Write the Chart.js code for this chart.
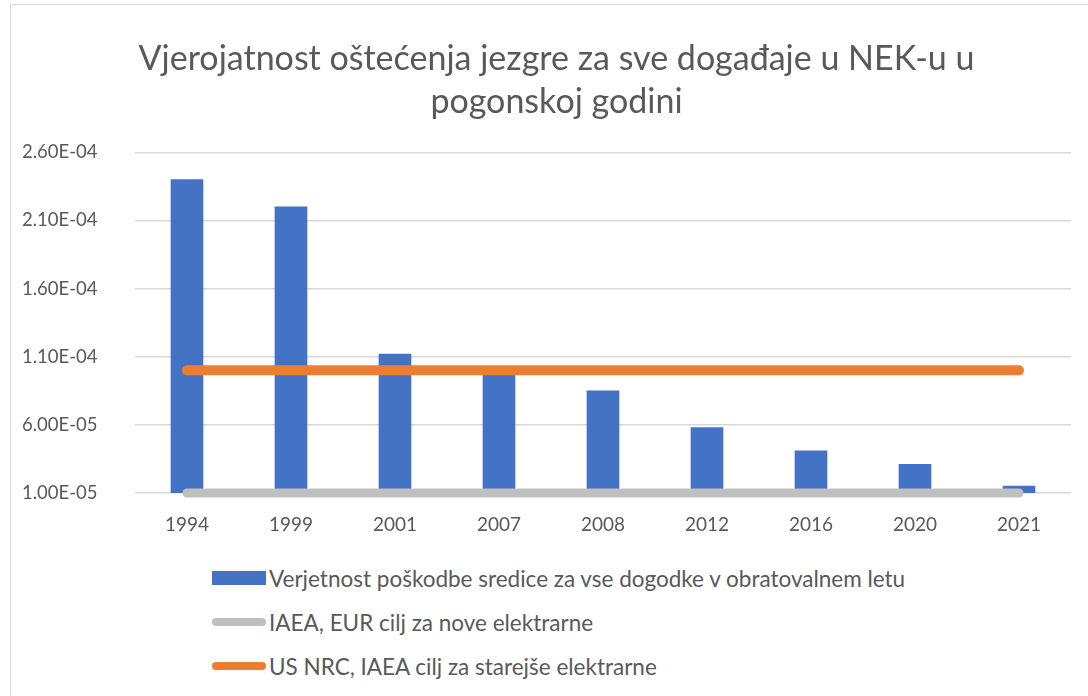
<!DOCTYPE html>
<html>
<head>
<meta charset="utf-8">
<script src="https://cdn.jsdelivr.net/npm/chart.js@4"></script>
<style>
  body { margin: 0; background: #fff; font-family: Lato, sans-serif; }
  #frame { position: absolute; left: 10px; top: 4px; width: 1100px; height: 720px; border: 1px solid #d9d9d9; }
  #wrap { position: absolute; left: 0; top: 0; width: 1088px; height: 545px; }
  #legend { position: absolute; left: 212px; top: 556px; color: #595959; font-size: 22.5px; }
  .item { display: flex; align-items: center; height: 44px; }
  .box { width: 54px; height: 14px; margin-right: 3px; }
  .ln { width: 54px; height: 8px; border-radius: 4px; margin-right: 3px; }
</style>
</head>
<body>
<div id="frame"></div>
<div id="wrap"><canvas id="chart"></canvas></div>
<div id="legend"></div>
<script>
// categories and values
const years = ["1994", "1999", "2001", "2007", "2008", "2012", "2016", "2020", "2021"];
const coreDamage = [2.40e-4, 2.20e-4, 1.12e-4, 9.8e-5, 8.5e-5, 5.8e-5, 4.1e-5, 3.1e-5, 1.5e-5];
const targetNew = [1e-5, 1e-5, 1e-5, 1e-5, 1e-5, 1e-5, 1e-5, 1e-5, 1e-5];
const targetOld = [1e-4, 1e-4, 1e-4, 1e-4, 1e-4, 1e-4, 1e-4, 1e-4, 1e-4];
const yTicks = [1e-5, 6e-5, 1.1e-4, 1.6e-4, 2.1e-4, 2.6e-4];

const textColor = "#595959";

function fmtExp(v) {
    const parts = v.toExponential(2).toUpperCase().split("E");
    const sign = parts[1][0] === "-" ? "-" : "+";
    let exp = parts[1].replace(/[+-]/, "");
    if (exp.length < 2) exp = "0" + exp;
    return parts[0] + "E" + sign + exp;
}

const chart = new Chart(document.getElementById("chart"), {
    data: {
        labels: years,
        datasets: [
            {
                type: "bar",
                label: "Verjetnost poškodbe sredice za vse dogodke v obratovalnem letu",
                data: coreDamage,
                backgroundColor: "#4472C4",
                barThickness: 32,
                order: 2
            },
            {
                type: "line",
                label: "IAEA, EUR cilj za nove elektrarne",
                data: targetNew,
                borderColor: "#BFBFBF",
                borderWidth: 9,
                borderCapStyle: "round",
                pointRadius: 0,
                clip: false,
                order: 1
            },
            {
                type: "line",
                label: "US NRC, IAEA cilj za starejše elektrarne",
                data: targetOld,
                borderColor: "#ED7D31",
                borderWidth: 10,
                borderCapStyle: "round",
                pointRadius: 0,
                clip: false,
                order: 0
            }
        ]
    },
    options: {
        responsive: true,
        maintainAspectRatio: false,
        animation: false,
        // left padding pushes the centred title right, as in the original
        layout: { padding: { left: 42, right: 17, top: 0, bottom: 0 } },
        plugins: {
            legend: { display: false },
            tooltip: { enabled: false },
            title: {
                display: true,
                text: ["Vjerojatnost oštećenja jezgre za sve događaje u NEK-u u", "pogonskoj godini"],
                color: textColor,
                font: { family: "Lato", size: 34, weight: "normal", lineHeight: 1.27 },
                padding: { top: 37, bottom: 29 }
            }
        },
        scales: {
            x: {
                grid: { display: false, drawTicks: false },
                border: { display: false },
                ticks: { color: textColor, font: { family: "Lato", size: 19 }, padding: 20 },
                afterFit: s => { s.height = 52; }
            },
            y: {
                min: 1e-5,
                max: 2.6e-4,
                grid: { color: "#D9D9D9", lineWidth: 1.5, drawTicks: false },
                border: { display: false },
                ticks: {
                    color: textColor,
                    font: { family: "Lato", size: 18.5 },
                    // mirrored so the labels are not clipped to the narrow axis box
                    mirror: true,
                    padding: -113,
                    callback: v => fmtExp(v)
                },
                afterBuildTicks: s => { s.ticks = yTicks.map(v => ({ value: v })); },
                afterFit: s => { s.width = 93; }
            }
        }
    }
});

// vertical legend like the original
const legend = document.getElementById("legend");
chart.data.datasets.forEach(ds => {
    const row = document.createElement("div");
    row.className = "item";
    const mark = document.createElement("div");
    if (ds.type === "bar") {
        mark.className = "box";
        mark.style.background = ds.backgroundColor;
    } else {
        mark.className = "ln";
        mark.style.background = ds.borderColor;
    }
    const txt = document.createElement("span");
    txt.textContent = ds.label;
    row.appendChild(mark);
    row.appendChild(txt);
    legend.appendChild(row);
});
</script>
</body>
</html>
